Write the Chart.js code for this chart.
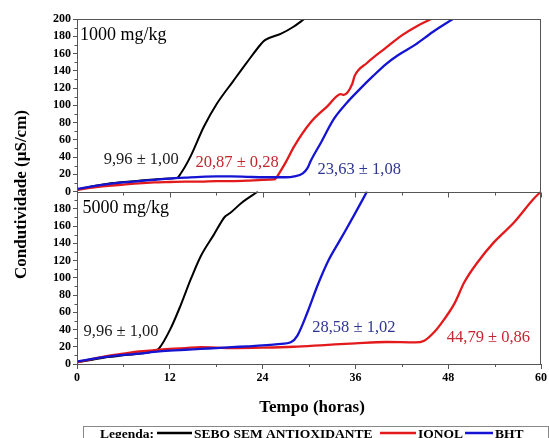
<!DOCTYPE html>
<html>
<head>
<meta charset="utf-8">
<script src="https://cdn.jsdelivr.net/npm/chart.js@4/dist/chart.umd.min.js"></script>
<style>
  html, body { margin: 0; padding: 0; background: #fff; }
  #grafico { display: block; }
</style>
</head>
<body>
<canvas id="grafico" width="549" height="438"></canvas>
<script>
// ================== Dados ==================
const SERIES = ["SEBO SEM ANTIOXIDANTE", "IONOL", "BHT"];
const X_TICKS = [0, 12, 24, 36, 48, 60];

// ---- painel 1000 mg/kg ----
const tempoSebo1000 = [0, 2, 4, 6, 8, 10, 12, 12.9, 13.5, 14.7, 16.4, 18.1, 20.2, 22, 23.8, 24.3, 26.4, 28, 29.4];
const condSebo1000  = [2, 6, 9, 11, 12.5, 14, 15, 15.5, 22, 41, 75, 102, 128, 150, 171, 175.5, 183, 191, 200];

const tempoIonol1000 = [0, 2, 4, 6, 8, 10, 12, 14, 16, 18, 20, 22, 24, 25.5, 26.2, 27, 28.1, 30.2, 32.4, 34.1, 34.5, 35.6, 35.9, 37.5, 40, 42, 44, 45.8];
const condIonol1000  = [2, 4.5, 6.5, 8, 9.5, 10.5, 11, 11.5, 11.5, 12, 12, 12.5, 13.5, 14, 22, 34, 52.6, 80, 99, 113, 112, 125, 134, 149, 167, 181, 192, 200];

const tempoBht1000 = [0, 2, 4, 6, 8, 10, 12, 14, 16, 18, 20, 22, 24, 26, 27, 28.1, 29.2, 29.8, 30.2, 31.5, 33.2, 34.9, 36.6, 38.3, 40, 41.5, 43.7, 46, 48.6];
const condBht1000  = [3, 6, 8.5, 10.5, 12, 13.5, 15, 16, 17, 17.5, 17.5, 17, 16.5, 16.5, 16.5, 17.5, 21, 27, 35, 56, 84, 103, 119, 134, 148, 158, 170, 185, 200];

// ---- painel 5000 mg/kg ----
const tempoSebo5000 = [0, 2, 4, 6, 8, 10, 10.6, 12.1, 13.4, 14.7, 16, 17.7, 19.15, 19.8, 21.3, 23.4];
const condSebo5000  = [2, 5, 8, 10, 12, 15, 18, 41, 68, 98, 125, 150, 171, 175, 187, 200];

const tempoIonol5000 = [0, 2, 4, 6, 8, 10, 12, 14, 16, 18, 20, 24, 28, 32, 36, 40, 43.7, 44.9, 46.2, 47.5, 48.8, 50.1, 51.8, 53.9, 56.5, 59, 60];
const condIonol5000  = [2, 6, 9.5, 12, 14.5, 16, 17.5, 18.5, 19.5, 19, 18.5, 19, 20, 22, 24, 25.5, 25, 27, 37, 52, 70, 95, 118, 141, 164, 191, 200];

const tempoBht5000 = [0, 2, 4, 6, 8, 10, 12, 14, 16, 18, 20, 22, 24, 26, 27.7, 28.5, 29.8, 31.1, 32.4, 34.1, 35.8, 37.5];
const condBht5000  = [3, 6, 8.5, 10.5, 12, 14, 15.5, 16.5, 17.5, 18.5, 19.5, 20.5, 21.5, 23, 25.5, 33, 60, 91, 118, 145, 172, 200];

// ---- anotações (tempo de indução) ----
const ROTULOS_1000 = ["1000 mg/kg", "9,96 ± 1,00", "20,87 ± 0,28", "23,63 ± 1,08"];
const ROTULOS_5000 = ["5000 mg/kg", "9,96 ± 1,00", "28,58 ± 1,02", "44,79 ± 0,86"];

// ================== Estilo ==================
const COR = { sebo: "#000000", ionol: "#e31a1c", bht: "#1414d2" };
const COR_TXT = { sebo: "#1a1a1a", ionol: "#c4262e", bht: "#2e3592" };
const SERIF = "'Liberation Serif', 'Times New Roman', serif";
const EIXO = "#555";

function pontos(xs, ys) {
  return xs.map((x, i) => ({ x: x, y: ys[i] }));
}

function serie(label, xs, ys, cor, eixo, ordem) {
  return {
    label: label,
    data: pontos(xs, ys),
    borderColor: cor,
    borderWidth: cor === COR.sebo ? 2 : 2.3,
    yAxisID: eixo,
    order: ordem,
    pointRadius: 0,
    cubicInterpolationMode: "monotone",
    fill: false
  };
}

// ================== Plugin: moldura, ticks menores, textos, legenda ==================
const extras = {
  id: "extras",
  afterDraw(chart) {
    const { ctx, chartArea: a, scales } = chart;
    const sx = scales.x, ys = scales.ySup, yi = scales.yInf;
    ctx.save();

    // moldura
    ctx.strokeStyle = EIXO;
    ctx.lineWidth = 1;
    ctx.strokeRect(a.left + 0.5, a.top + 0.5, a.right - a.left - 1, a.bottom - a.top);
    const yDiv = Math.round(ys.getPixelForValue(0)) + 0.5;
    ctx.beginPath();
    ctx.moveTo(a.left, yDiv); ctx.lineTo(a.right, yDiv);
    ctx.stroke();

    // ticks do eixo x (divisória e base)
    ctx.beginPath();
    for (let v = 0; v <= 60; v += 6) {
      const px = Math.round(sx.getPixelForValue(v)) + 0.5;
      const len = v % 12 === 0 ? 5 : 3;
      ctx.moveTo(px, yDiv); ctx.lineTo(px, yDiv + len);
      if (v % 12 !== 0) { ctx.moveTo(px, a.bottom); ctx.lineTo(px, a.bottom + 3); }
    }
    // ticks menores do eixo y
    [ys, yi].forEach(s => {
      for (let v = 10; v < 200; v += 20) {
        const py = Math.round(s.getPixelForValue(v)) + 0.5;
        ctx.moveTo(a.left, py); ctx.lineTo(a.left - 2.5, py);
      }
    });
    ctx.stroke();

    // título do eixo y
    ctx.fillStyle = "#000";
    ctx.font = "bold 17px " + SERIF;
    ctx.textAlign = "center";
    ctx.textBaseline = "middle";
    ctx.save();
    ctx.translate(22, (a.top + a.bottom) / 2 + 3);
    ctx.rotate(-Math.PI / 2);
    ctx.fillText("Condutividade (µS/cm)", 0, 0);
    ctx.restore();

    // título do eixo x
    ctx.fillText("Tempo (horas)", 312, 408);

    // rótulos dos painéis
    ctx.textAlign = "left";
    ctx.font = "18px " + SERIF;
    ctx.fillText(ROTULOS_1000[0], sx.getPixelForValue(0.4), ys.getPixelForValue(181));
    ctx.fillText(ROTULOS_5000[0], sx.getPixelForValue(0.7), yi.getPixelForValue(180));

    ctx.textAlign = "center";
    ctx.font = "16.5px " + SERIF;
    const txt = (s, t, cor, x, y) => {
      ctx.fillStyle = cor;
      ctx.fillText(t, sx.getPixelForValue(x), s.getPixelForValue(y));
    };
    txt(ys, ROTULOS_1000[1], COR_TXT.sebo, 8.3, 37);
    txt(ys, ROTULOS_1000[2], COR_TXT.ionol, 20.7, 34);
    txt(ys, ROTULOS_1000[3], COR_TXT.bht, 36.5, 25.5);
    txt(yi, ROTULOS_5000[1], COR_TXT.sebo, 5.7, 37);
    txt(yi, ROTULOS_5000[2], COR_TXT.bht, 35.8, 42.5);
    txt(yi, ROTULOS_5000[3], COR_TXT.ionol, 53.2, 31);

    // legenda
    ctx.strokeStyle = "#888";
    ctx.lineWidth = 1;
    ctx.strokeRect(83.5, 426.5, 465, 20);
    ctx.fillStyle = "#000";
    ctx.font = "bold 13.5px " + SERIF;
    ctx.textAlign = "left";
    ctx.textBaseline = "alphabetic";
    ctx.fillText("Legenda:", 100, 438);
    const itens = [
      { x0: 157, x1: 192, tx: 194, cor: COR.sebo, nome: SERIES[0] },
      { x0: 380, x1: 416, tx: 418, cor: COR.ionol, nome: SERIES[1] },
      { x0: 465, x1: 493, tx: 495, cor: COR.bht, nome: SERIES[2] }
    ];
    itens.forEach(it => {
      ctx.strokeStyle = it.cor;
      ctx.lineWidth = 2.5;
      ctx.beginPath();
      ctx.moveTo(it.x0, 433); ctx.lineTo(it.x1, 433);
      ctx.stroke();
      ctx.fillStyle = "#000";
      ctx.fillText(it.nome, it.tx, 438);
    });
    ctx.restore();
  }
};

// ================== Gráfico ==================
const eixoY = (peso, semTopo) => ({
  type: "linear",
  position: "left",
  stack: "paineis",
  stackWeight: 1,
  weight: peso,
  min: 0,
  max: 200,
  afterFit: s => { s.width = 77; },
  ticks: {
    stepSize: 20,
    autoSkip: false,
    color: "#000",
    padding: 2,
    font: { family: SERIF, size: 12, weight: "bold" },
    callback: v => (semTopo && v === 200) ? null : v
  },
  grid: { drawOnChartArea: false, tickLength: 4, color: EIXO },
  border: { color: EIXO }
});

new Chart(document.getElementById("grafico"), {
  type: "line",
  data: {
    datasets: [
      serie(SERIES[2], tempoBht1000, condBht1000, COR.bht, "ySup", 1),
      serie(SERIES[1], tempoIonol1000, condIonol1000, COR.ionol, "ySup", 2),
      serie(SERIES[0], tempoSebo1000, condSebo1000, COR.sebo, "ySup", 3),
      serie(SERIES[2], tempoBht5000, condBht5000, COR.bht, "yInf", 1),
      serie(SERIES[1], tempoIonol5000, condIonol5000, COR.ionol, "yInf", 2),
      serie(SERIES[0], tempoSebo5000, condSebo5000, COR.sebo, "yInf", 3)
    ]
  },
  options: {
    responsive: false,
    animation: false,
    layout: { padding: { top: 19, right: 3, left: 0, bottom: 0 } },
    plugins: { legend: { display: false }, tooltip: { enabled: false } },
    scales: {
      x: {
        type: "linear",
        min: 0,
        max: 60,
        afterBuildTicks: s => { s.ticks = X_TICKS.map(v => ({ value: v })); },
        afterFit: s => { s.height = 74; },
        ticks: {
          color: "#000",
          padding: 2,
          font: { family: SERIF, size: 12, weight: "bold" }
        },
        grid: { drawOnChartArea: false, tickLength: 5, color: EIXO },
        border: { color: EIXO }
      },
      ySup: eixoY(1, false),
      yInf: eixoY(0, true)
    }
  },
  plugins: [extras]
});
</script>
</body>
</html>
